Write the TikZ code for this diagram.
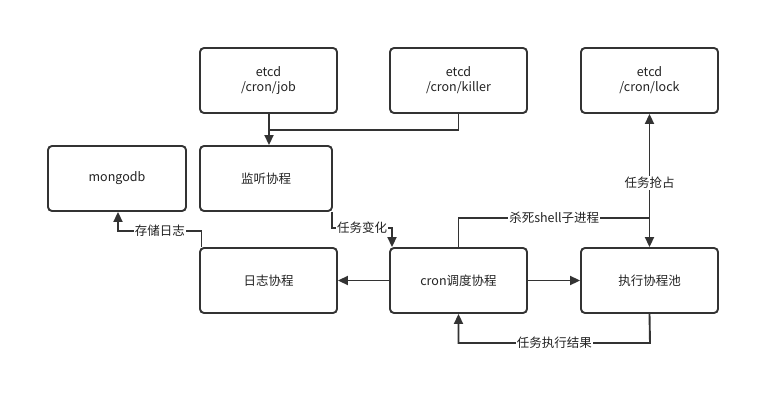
\documentclass[tikz,border=0pt]{standalone}
\usepackage{fontspec}
\setmainfont{Noto Sans CJK SC}
\usetikzlibrary{arrows.meta,positioning}
\definecolor{ln}{HTML}{333333}
\definecolor{tx}{HTML}{222222}
\tikzset{
  px/.style={x=1pt,y=-1pt},
  box/.style={draw=ln,line width=1.9pt,rounded corners=4pt,minimum height=65pt,
    inner sep=0pt,align=center,font=\fontsize{12.5}{15}\selectfont,text=tx},
  wbox/.style={box,minimum width=137pt},
  nbox/.style={box,minimum width=132pt},
  edge/.style={draw=ln,line width=1.9pt},
  arr/.style={edge,-{Triangle[length=10pt,width=9pt]}},
  darr/.style={edge,{Triangle[length=10pt,width=9pt]}-{Triangle[length=10pt,width=9pt]}},
  lbl/.style={fill=white,inner sep=1pt,font=\fontsize{12.5}{15}\selectfont,text=tx}
}
\begin{document}
\begin{tikzpicture}[px]
\useasboundingbox (0,0) rectangle (781,406);
\fill[white] (0,0) rectangle (781,406);
% boxes
\node[wbox] (job) at (268.5,80.5) {etcd\\/cron/job};
\node[wbox] (killer) at (458.5,80.5) {etcd\\/cron/killer};
\node[wbox] (lock) at (649.5,80.5) {etcd\\/cron/lock};
\node[box,minimum width=138pt] (mongo) at (117,178.5) {mongodb};
\node[nbox] (listen) at (266,178.5) {监听协程};
\node[wbox] (log) at (268.5,280.5) {日志协程};
\node[wbox] (cron) at (458.5,280.5) {cron调度协程};
\node[wbox] (pool) at (649.5,280.5) {执行协程池};
% bend coordinates
\coordinate (jm) at (269,130);
\coordinate (kj) at (650,218);
\coordinate (lsA) at (332,228);
\coordinate (lsB) at (392,228);
\coordinate (lgA) at (201.5,231);
\coordinate (lgB) at (118,231);
\coordinate (rsA) at (650,343);
\coordinate (rsB) at (458.5,343);
% connectors
\draw[arr] (job.south -| jm) -- (listen.north -| jm);
\draw[edge] (killer.south) |- (jm);
\draw[darr] (lock.south) -- node[lbl,pos=0.52] {任务抢占} (pool.north);
\draw[edge] (cron.north) |- node[lbl,pos=0.75] {杀死shell子进程} (kj);
\draw[arr] (pool.south) -- (rsA) -- node[lbl] {任务执行结果} (rsB) -- (cron.south);
\draw[arr] (cron.east) -- (pool.west);
\draw[arr] (cron.west) -- (log.east);
\draw[arr] (listen.south -| lsA) -- (lsA) -- node[lbl] {任务变化} (lsB) -- (cron.north -| lsB);
\draw[arr] (log.north -| lgA) -- (lgA) -- node[lbl] {存储日志} (lgB) -- (mongo.south -| lgB);
\end{tikzpicture}
\end{document}
